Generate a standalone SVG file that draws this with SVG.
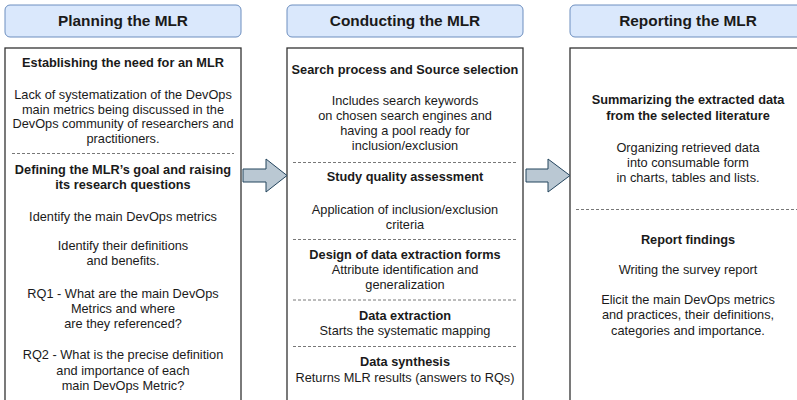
<svg xmlns="http://www.w3.org/2000/svg" width="797" height="400" viewBox="0 0 797 400">
<style>
.hdr{fill:#dae8fc;stroke:#6c8ebf;stroke-width:1}
.box{fill:#ffffff;stroke:#333333;stroke-width:1.3}
.sep{stroke:#555555;stroke-width:0.8;stroke-dasharray:3 2;fill:none}
.arrow{fill:#bac8d3;stroke:#23445d;stroke-width:1}
text{font-family:"Liberation Sans",Arial,sans-serif;font-size:12.75px;fill:#1a1a1a;text-anchor:middle}
.ht{font-size:15.4px;font-weight:bold}
.b{font-weight:bold}
</style>
<rect width="797" height="400" fill="#ffffff"/>
<g id="planning">
<rect class="hdr" x="5" y="5" width="236" height="32" rx="5"/>
<text class="ht" x="123" y="26">Planning the MLR</text>
<rect class="box" x="5" y="48" width="236" height="370"/>
<text class="b" x="123" y="66.5">Establishing the need for an MLR</text>
<text x="123" y="99">Lack of systematization of the DevOps</text>
<text x="123" y="113.5">main metrics being discussed in the</text>
<text x="123" y="128">DevOps community of researchers and</text>
<text x="123" y="142.5">practitioners.</text>
<line class="sep" x1="12" y1="153.5" x2="234" y2="153.5"/>
<text class="b" x="123" y="174">Defining the MLR’s goal and raising</text>
<text class="b" x="123" y="189">its research questions</text>
<text x="123" y="221">Identify the main DevOps metrics</text>
<text x="123" y="250">Identify their definitions</text>
<text x="123" y="265">and benefits.</text>
<text x="123" y="298">RQ1 - What are the main DevOps</text>
<text x="123" y="313">Metrics and where</text>
<text x="123" y="328">are they referenced?</text>
<text x="123" y="359">RQ2 - What is the precise definition</text>
<text x="123" y="374.5">and importance of each</text>
<text x="123" y="390">main DevOps Metric?</text>
</g>
<g id="conducting">
<rect class="hdr" x="287" y="5" width="236" height="32" rx="5"/>
<text class="ht" x="405" y="26">Conducting the MLR</text>
<rect class="box" x="287" y="48" width="236" height="370"/>
<text class="b" x="405" y="73.5">Search process and Source selection</text>
<text x="405" y="104.5">Includes search keywords</text>
<text x="405" y="119.5">on chosen search engines and</text>
<text x="405" y="134.5">having a pool ready for</text>
<text x="405" y="150">inclusion/exclusion</text>
<line class="sep" x1="293" y1="162.5" x2="516" y2="162.5"/>
<text class="b" x="405" y="181">Study quality assessment</text>
<text x="405" y="213.5">Application of inclusion/exclusion</text>
<text x="405" y="228.5">criteria</text>
<line class="sep" x1="293" y1="239.5" x2="516" y2="239.5"/>
<text class="b" x="405" y="258.5">Design of data extraction forms</text>
<text x="405" y="273.5">Attribute identification and</text>
<text x="405" y="289">generalization</text>
<line class="sep" x1="293" y1="300" x2="516" y2="300"/>
<text class="b" x="405" y="320">Data extraction</text>
<text x="405" y="334.5">Starts the systematic mapping</text>
<line class="sep" x1="293" y1="346.5" x2="516" y2="346.5"/>
<text class="b" x="405" y="366">Data synthesis</text>
<text x="405" y="381.5">Returns MLR results (answers to RQs)</text>
</g>
<g id="reporting">
<rect class="hdr" x="570" y="5" width="236" height="32" rx="5"/>
<text class="ht" x="688" y="26">Reporting the MLR</text>
<rect class="box" x="570" y="48" width="236" height="370"/>
<text class="b" x="688" y="104">Summarizing the extracted data</text>
<text class="b" x="688" y="119.5">from the selected literature</text>
<text x="688" y="151.5">Organizing retrieved data</text>
<text x="688" y="166.5">into consumable form</text>
<text x="688" y="181.5">in charts, tables and lists.</text>
<line class="sep" x1="576" y1="209.5" x2="800" y2="209.5"/>
<text class="b" x="688" y="244">Report findings</text>
<text x="688" y="274">Writing the survey report</text>
<text x="688" y="303.5">Elicit the main DevOps metrics</text>
<text x="688" y="319">and practices, their definitions,</text>
<text x="688" y="334.5">categories and importance.</text>
</g>
<g id="connectors">
<path class="arrow" d="M243,169 H266 V159 L287,175.5 L266,192 V182 H243 Z"/>
<path class="arrow" d="M526,169 H548 V159 L570,175.5 L548,192 V182 H526 Z"/>
</g>
</svg>
